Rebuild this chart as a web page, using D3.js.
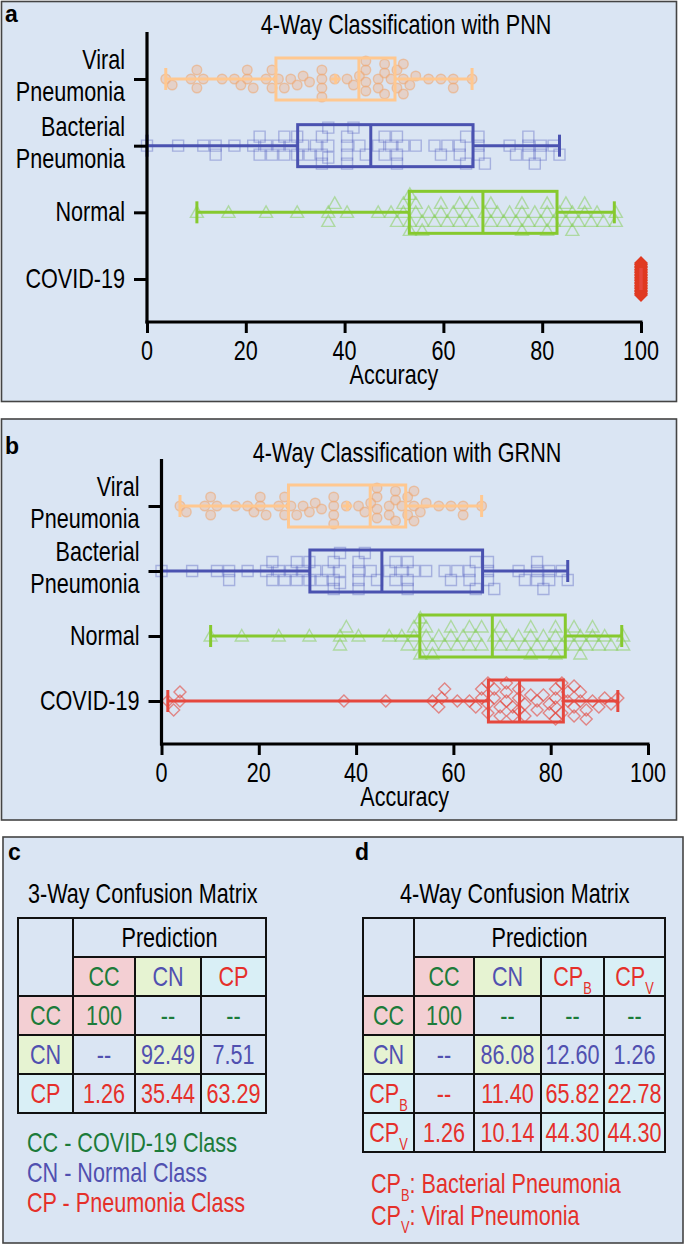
<!DOCTYPE html>
<html><head><meta charset="utf-8">
<script src="https://cdn.jsdelivr.net/npm/d3@7"></script>
<style>body{margin:0;background:#fff} svg{display:block}</style>
</head><body><svg id="c" width="685" height="1245"></svg>
<script>
// ---------------- DATA ----------------
const categories = ["Viral Pneumonia", "Bacterial Pneumonia", "Normal", "COVID-19"];
const categoryLines = [["Viral", "Pneumonia"], ["Bacterial", "Pneumonia"], ["Normal"], ["COVID-19"]];
const xTicks = [0, 20, 40, 60, 80, 100];

// individual accuracies (same in both panels for viral, bacterial, normal)
const viralPoints = [3.8, 5.1, 8.9, 10.1, 10.1, 11.4, 15.2, 17.7, 19.0, 20.3, 20.3, 21.5, 24.1, 25.3, 25.3, 26.6, 27.8, 29.1, 30.4, 31.6, 32.9, 35.4, 35.4, 35.4, 35.4, 38.0, 40.5, 41.8, 43.0, 44.3, 44.3, 44.3, 44.3, 46.8, 46.8, 48.1, 48.1, 48.1, 49.4, 50.6, 50.6, 51.9, 51.9, 51.9, 53.2, 54.4, 57.0, 59.5, 62.0, 62.0, 65.8];
const bacterialPoints = [0, 6.3, 11.4, 13.9, 13.9, 17.7, 21.5, 22.8, 22.8, 24.1, 25.3, 26.6, 27.8, 27.8, 29.1, 30.4, 30.4, 31.6, 32.9, 34.2, 35.4, 35.4, 35.4, 36.7, 36.7, 36.7, 40.5, 40.5, 40.5, 40.5, 41.8, 43.0, 44.3, 46.8, 48.1, 48.1, 49.4, 50.6, 50.6, 50.6, 51.9, 54.4, 58.2, 59.5, 60.8, 63.3, 63.3, 64.6, 64.6, 67.1, 67.1, 67.1, 68.4, 73.4, 74.7, 77.2, 77.2, 77.2, 78.5, 79.7, 79.7, 82.3, 83.5];
const normalPoints = [10.1, 16.5, 24.1, 30.4, 36.7, 36.7, 38.0, 40.5, 46.8, 49.4, 50.6, 51.9, 51.9, 53.2, 53.2, 53.2, 54.4, 54.4, 55.7, 55.7, 57.0, 58.2, 59.5, 59.5, 60.8, 62.0, 63.3, 63.3, 64.6, 65.8, 65.8, 68.4, 69.6, 69.6, 70.9, 72.2, 73.4, 74.7, 75.9, 75.9, 75.9, 77.2, 78.5, 79.7, 81.0, 81.0, 81.0, 82.3, 83.5, 84.8, 84.8, 86.1, 86.1, 87.3, 88.6, 88.6, 89.9, 91.1, 92.4, 94.9, 94.9];
const covidPnnPoints = [100, 100, 100, 100, 100, 100, 100, 100, 100, 100, 100, 100, 100, 100, 100, 100, 100, 100, 100, 100, 100];
const covidGrnnPoints = [1.3, 2.5, 3.8, 3.8, 37.5, 46.1, 55.7, 57.0, 57.6, 58.2, 60.8, 63.3, 64.6, 65.8, 65.8, 67.1, 67.1, 67.1, 68.4, 68.4, 69.6, 69.6, 70.9, 70.9, 70.9, 72.2, 72.2, 73.4, 73.4, 73.4, 74.7, 74.7, 75.9, 77.2, 77.2, 78.5, 79.7, 79.7, 81.0, 81.0, 81.0, 81.0, 82.3, 82.3, 83.5, 83.5, 84.8, 84.8, 84.8, 86.1, 86.1, 87.3, 87.3, 88.6, 89.9, 91.1, 92.4, 93.8];

// box statistics [min, q1, median, q3, max]
const viralBox = [3.8, 26.1, 42.9, 50.2, 65.8];
const bacterialBox = [0, 30.5, 45.3, 66.0, 83.5];
const normalBox = [10.1, 53.1, 68.0, 83.0, 94.6];
const covidPnnBox = [100, 100, 100, 100, 100];
const covidGrnnBox = [1.3, 67.2, 73.6, 82.6, 93.8];
const viralMean = 38.2;

// confusion matrices
const cm3Labels = ["CC", "CN", "CP"];
const cm3Values = [["100", "--", "--"], ["--", "92.49", "7.51"], ["1.26", "35.44", "63.29"]];
const cm4Labels = ["CC", "CN", "CP", "CP"];
const cm4Subs = ["", "", "B", "V"];
const cm4Values = [["100", "--", "--", "--"], ["--", "86.08", "12.60", "1.26"], ["--", "11.40", "65.82", "22.78"], ["1.26", "10.14", "44.30", "44.30"]];
const legend3 = ["CC - COVID-19 Class", "CN - Normal Class", "CP - Pneumonia Class"];

// ---------------- STYLE ----------------
const BG = "#dae5f3";
const FONT = "'Liberation Sans', Arial, Helvetica, sans-serif";
const SX = 0.8;
const seriesStyle = [
  {box: "#ffc890", shape: "circle", stroke: "rgba(238,165,110,0.55)", fill: "rgba(240,185,150,0.45)", minD: 8.5},
  {box: "#4a52b0", shape: "square", stroke: "rgba(80,90,190,0.38)", fill: "none", minD: 9},
  {box: "#86c92e", shape: "triangle", stroke: "rgba(130,205,80,0.5)", fill: "none", minD: 9},
  {box: "#e5473d", shape: "diamond", stroke: "rgba(228,70,60,0.6)", fill: "none", minD: 8.5}
];
const classText = {CC: "#1c7b3a", CN: "#5050b0", CP: "#e5302a"};
const classFill = {CC: "#f3cfd3", CN: "#e6f3d2", CP: "#d9eff6"};

const svg = d3.select("#c");

function txt(g, x, y, s, o = {}) {
  const t = g.append("text")
    .attr("transform", `translate(${x},${y}) scale(${o.sx ?? SX},1)`)
    .attr("text-anchor", o.anchor || "start")
    .attr("font-family", FONT)
    .attr("font-size", o.size || 27)
    .attr("font-weight", o.weight || "normal")
    .attr("fill", o.fill || "#000");
  if (s !== null) t.text(s);
  return t;
}

function panel(x, y, w, h) {
  svg.append("rect").attr("x", x).attr("y", y).attr("width", w).attr("height", h)
    .attr("fill", BG).attr("stroke", "#444").attr("stroke-width", 1.6);
}

function swarm(vals, xs, minD, maxOff, step) {
  const pts = vals.map(v => ({v, x: xs(v)})).sort((a, b) => a.x - b.x);
  const cands = [0];
  for (let k = 1; k * step <= maxOff + 1e-9; k++) cands.push(k * step, -k * step);
  const placed = [];
  pts.forEach(p => {
    const near = placed.filter(q => Math.abs(q.x - p.x) < minD);
    let best = 0, bestScore = -1;
    for (const c of cands) {
      let md = Infinity;
      for (const q of near) { const d = Math.hypot(q.x - p.x, q.dy - c); if (d < md) md = d; }
      if (md >= minD) { best = c; break; }
      if (md > bestScore) { bestScore = md; best = c; }
    }
    p.dy = best; placed.push(p);
  });
  return placed;
}

const shapePath = {
  circle: "M4.8,0A4.8,4.8,0,1,1,-4.8,0A4.8,4.8,0,1,1,4.8,0Z",
  square: "M-5.5,-5.5H5.5V5.5H-5.5Z",
  triangle: "M0,-6.5L6.5,5L-6.5,5Z",
  diamond: "M0,-6L6,0L0,6L-6,0Z"
};

function boxChart(cfg) {
  const g = svg.append("g");
  const x = d3.scaleLinear().domain([0, 100]).range([cfg.x0, cfg.x1]);
  const y = d3.scalePoint().domain(categories).range([cfg.yTop + 47, cfg.yBot - 43]);
  const hh = 21;

  // points
  cfg.points.forEach((vals, i) => {
    const st = seriesStyle[i];
    const cy = y(categories[i]);
    const special = cfg.solid && cfg.solid[i];
    const pl = special ? swarm(vals, x, 1.6, 16, 1.6) : swarm(vals, x, st.minD, 20, 3);
    g.append("g").selectAll("path").data(pl).join("path")
      .attr("d", shapePath[st.shape])
      .attr("transform", d => `translate(${d.x},${cy + d.dy})`)
      .attr("fill", special ? "#e03a22" : st.fill)
      .attr("stroke", special ? "#e03a22" : st.stroke)
      .attr("stroke-width", 1.4);
  });

  // boxes
  cfg.boxes.forEach((b, i) => {
    const st = seriesStyle[i];
    const cy = y(categories[i]);
    const bg = g.append("g").attr("stroke", st.box).attr("stroke-width", 3).attr("fill", "none");
    bg.append("line").attr("x1", x(b[0])).attr("x2", x(b[1])).attr("y1", cy).attr("y2", cy);
    bg.append("line").attr("x1", x(b[3])).attr("x2", x(b[4])).attr("y1", cy).attr("y2", cy);
    bg.append("line").attr("x1", x(b[0])).attr("x2", x(b[0])).attr("y1", cy - 11).attr("y2", cy + 11);
    bg.append("line").attr("x1", x(b[4])).attr("x2", x(b[4])).attr("y1", cy - 11).attr("y2", cy + 11);
    if (b[3] > b[1]) {
      bg.append("rect").attr("x", x(b[1])).attr("y", cy - hh).attr("width", x(b[3]) - x(b[1])).attr("height", 2 * hh);
      bg.append("line").attr("x1", x(b[2])).attr("x2", x(b[2])).attr("y1", cy - hh).attr("y2", cy + hh);
    }
    if (i === 0) {
      const mx = x(viralMean);
      bg.append("path").attr("d", `M${mx - 5},${cy}H${mx + 5}M${mx},${cy - 5}V${cy + 5}`).attr("stroke-width", 3);
    }
  });

  // axes
  const xa = g.append("g").attr("transform", `translate(0,${cfg.yBot})`)
    .call(d3.axisBottom(x).tickValues(xTicks).tickSize(11).tickSizeOuter(0).tickFormat(() => ""));
  xa.select(".domain").attr("stroke", "#000").attr("stroke-width", 3.2)
    .attr("d", `M${cfg.x0 - 1.5},0H${x(100) + 1.5}`);
  xa.selectAll(".tick line").attr("stroke", "#000").attr("stroke-width", 3);
  xTicks.forEach(t => txt(g, x(t), cfg.yBot + 38, String(t), {anchor: "middle"}));
  txt(g, (cfg.x0 + cfg.x1) / 2, cfg.yBot + 62, "Accuracy", {anchor: "middle"});

  const ya = g.append("g").attr("transform", `translate(${cfg.x0},0)`)
    .call(d3.axisLeft(y).tickSize(13).tickFormat(() => ""));
  ya.select(".domain").remove();
  ya.selectAll(".tick line").attr("stroke", "#000").attr("stroke-width", 3);
  g.append("line").attr("x1", cfg.x0).attr("x2", cfg.x0).attr("y1", cfg.yTop).attr("y2", cfg.yBot + 1.5)
    .attr("stroke", "#000").attr("stroke-width", 3.2);

  categoryLines.forEach((lines, i) => {
    const cy = y(categories[i]);
    const xr = cfg.x0 - 22;
    if (lines.length === 2) {
      txt(g, xr, cy - 10, lines[0], {anchor: "end"});
      txt(g, xr, cy + 22, lines[1], {anchor: "end"});
    } else {
      txt(g, xr, cy + 9, lines[0], {anchor: "end"});
    }
  });

  txt(g, cfg.titleX, cfg.titleY, cfg.title, {anchor: "middle"});
}

// ---------------- PANEL A ----------------
panel(1.5, 1.5, 675, 400);
txt(svg, 5, 21.5, "a", {size: 23, weight: "bold", sx: 1});
boxChart({
  x0: 147, x1: 641, yTop: 32, yBot: 322,
  title: "4-Way Classification with PNN", titleX: 406, titleY: 34,
  points: [viralPoints, bacterialPoints, normalPoints, covidPnnPoints],
  boxes: [viralBox, bacterialBox, normalBox, covidPnnBox],
  solid: [false, false, false, true]
});

// ---------------- PANEL B ----------------
panel(1.5, 419, 675, 401);
txt(svg, 5, 454, "b", {size: 23, weight: "bold", sx: 1});
boxChart({
  x0: 161.5, x1: 648, yTop: 459, yBot: 744,
  title: "4-Way Classification with GRNN", titleX: 407, titleY: 462,
  points: [viralPoints, bacterialPoints, normalPoints, covidGrnnPoints],
  boxes: [viralBox, bacterialBox, normalBox, covidGrnnBox]
});

// ---------------- PANELS C & D ----------------
panel(3, 837, 680, 406);
txt(svg, 8, 860, "c", {size: 23, weight: "bold", sx: 1});
txt(svg, 355, 860, "d", {size: 23, weight: "bold", sx: 1});

function label(g, x, y, base, sub, color, anchor, size) {
  const t = txt(g, x, y, null, {anchor, fill: color, size: size || 27});
  t.append("tspan").text(base);
  if (sub) t.append("tspan").attr("font-size", 16).attr("dy", 8).text(sub);
  return t;
}

function matrix(cfg) {
  const g = svg.append("g");
  const n = cfg.labels.length;
  const cx = cfg.cols, ry = cfg.rows;
  const cell = (x0, y0, x1, y1, fill) => g.append("rect").attr("x", x0).attr("y", y0)
    .attr("width", x1 - x0).attr("height", y1 - y0).attr("fill", fill || "none")
    .attr("stroke", "#111").attr("stroke-width", 2);
  cell(cx[0], ry[0], cx[1], ry[2]);
  cell(cx[1], ry[0], cx[n + 1], ry[1]);
  txt(g, (cx[1] + cx[n + 1]) / 2, ry[0] + 29, "Prediction", {anchor: "middle"});
  for (let j = 0; j < n; j++) {
    const k = cfg.labels[j];
    cell(cx[j + 1], ry[1], cx[j + 2], ry[2], classFill[k]);
    label(g, (cx[j + 1] + cx[j + 2]) / 2, ry[1] + 29, k, cfg.subs[j], classText[k], "middle");
  }
  for (let i = 0; i < n; i++) {
    const ki = cfg.labels[i];
    cell(cx[0], ry[i + 2], cx[1], ry[i + 3], classFill[ki]);
    label(g, (cx[0] + cx[1]) / 2, ry[i + 2] + 29, ki, cfg.subs[i], classText[ki], "middle");
    for (let j = 0; j < n; j++) {
      const kj = cfg.labels[j];
      cell(cx[j + 1], ry[i + 2], cx[j + 2], ry[i + 3], ki === kj ? classFill[ki] : null);
      txt(g, (cx[j + 1] + cx[j + 2]) / 2, ry[i + 2] + 29, cfg.values[i][j], {anchor: "middle", fill: classText[ki]});
    }
  }
  txt(g, cfg.titleX, cfg.titleY, cfg.title, {anchor: "start"});
}

matrix({
  title: "3-Way Confusion Matrix", titleX: 28, titleY: 903,
  labels: cm3Labels, subs: ["", "", ""], values: cm3Values,
  cols: [18, 73, 135, 201, 266], rows: [918, 957, 996, 1035, 1074, 1113]
});
matrix({
  title: "4-Way Confusion Matrix", titleX: 400, titleY: 903,
  labels: cm4Labels, subs: cm4Subs, values: cm4Values,
  cols: [363, 414, 474, 541, 604, 665], rows: [918, 957, 996, 1035, 1074, 1113, 1152]
});

legend3.forEach((s, i) => txt(svg, 27, 1152 + 30 * i, s, {fill: classText[cm3Labels[i]]}));
{
  const t1 = label(svg, 371, 1193, "CP", "B", classText.CP, "start");
  t1.append("tspan").attr("dy", -8).text(": Bacterial Pneumonia");
  const t2 = label(svg, 371, 1225, "CP", "V", classText.CP, "start");
  t2.append("tspan").attr("dy", -8).text(": Viral Pneumonia");
}
</script></body></html>
